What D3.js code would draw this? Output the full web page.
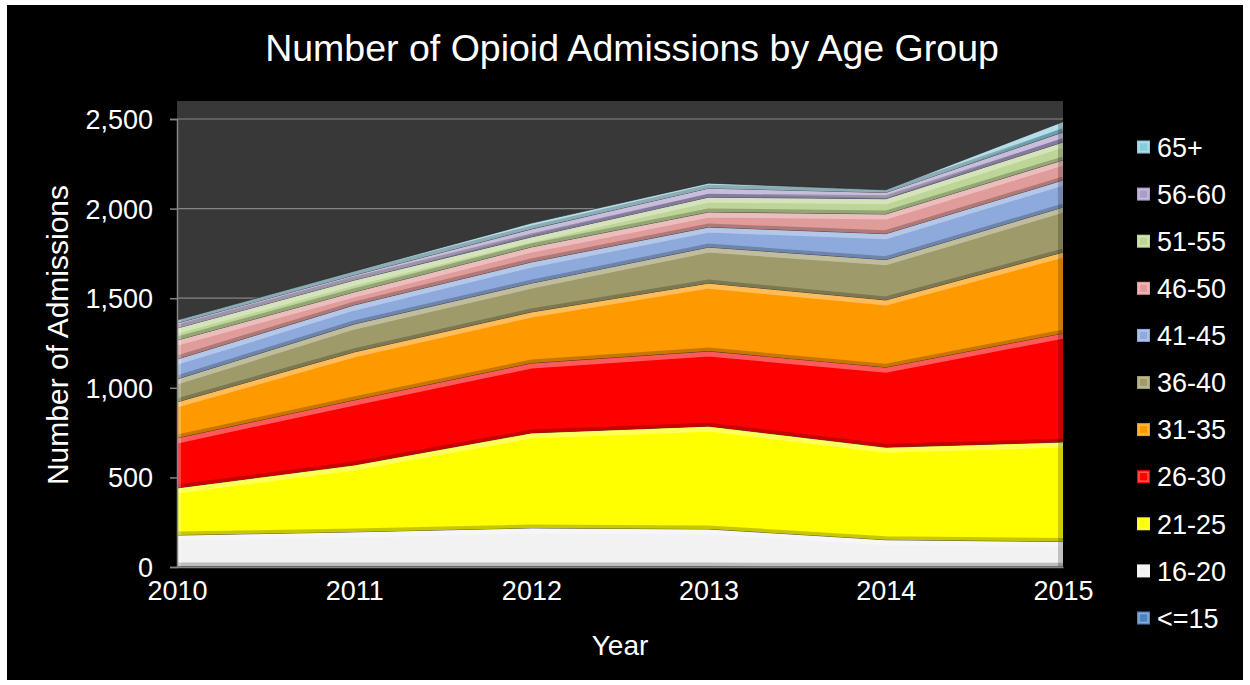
<!DOCTYPE html>
<html><head><meta charset="utf-8">
<script src="https://cdn.jsdelivr.net/npm/d3@7"></script>
<style>html,body{margin:0;padding:0;background:#fff;}svg{display:block;}</style>
</head><body>
<svg id="c" width="1250" height="685"></svg>
<script>
const years = [2010, 2011, 2012, 2013, 2014, 2015];
const seriesNames = ["<=15","16-20","21-25","26-30","31-35","36-40","41-45","46-50","51-55","56-60","65+"];
const le15   = [5, 5, 5, 5, 4, 4];
const a16_20 = [173, 191, 213, 207, 148, 138];
const a21_25 = [263, 373, 530, 574, 516, 555];
const a26_30 = [279, 363, 390, 419, 447, 608];
const a31_35 = [201, 268, 285, 379, 375, 452];
const a36_40 = [128, 156, 161, 201, 225, 251];
const a41_45 = [111, 106, 118, 112, 145, 151];
const a46_50 = [106, 73, 84, 84, 110, 112];
const a51_55 = [67, 66, 56, 83, 85, 100];
const a56_60 = [28, 28, 44, 50, 35, 56];
const a65    = [17, 22, 33, 28, 15, 58];
const yTicks = [0, 500, 1000, 1500, 2000, 2500];
const colors = ["#4f81bd","#f2f2f2","#ffff00","#ff0000","#ff9900","#9e9a6a","#8eaadc","#e09c9a","#bdd597","#ab9cc9","#8ccbdc"];

const valuesBySeries = [le15,a16_20,a21_25,a26_30,a31_35,a36_40,a41_45,a46_50,a51_55,a56_60,a65];
const table = years.map((y,i)=>{ const o={year:y}; seriesNames.forEach((s,k)=>o[s]=valuesBySeries[k][i]); return o; });
const stacked = d3.stack().keys(seriesNames)(table);

const svg = d3.select("#c");
const FONT = "Liberation Sans, Arial, sans-serif";
svg.append("rect").attr("x",7).attr("y",5).attr("width",1236).attr("height",675).attr("fill","#000");

const L=177, R=1063, T=101, B=567;
const x = d3.scaleLinear().domain([2010,2015]).range([L,R]);
const y = d3.scaleLinear().domain([0,2500]).range([B, B-448]);

svg.append("rect").attr("x",L).attr("y",T).attr("width",R-L).attr("height",B-T).attr("fill","#383838");

svg.append("g").selectAll("line").data(yTicks.filter(d=>d>0)).join("line")
  .attr("x1",L).attr("x2",R).attr("y1",d=>y(d)).attr("y2",d=>y(d))
  .attr("stroke","#858585").attr("stroke-width",1.2);

const area = d3.area().x(d=>x(d.data.year)).y0(d=>y(d[0])).y1(d=>y(d[1]));
const topLine = d3.line().x(d=>x(d.data.year)).y(d=>y(d[1]));
const botLine = d3.line().x(d=>x(d.data.year)).y(d=>y(d[0]));

const defs = svg.append("defs");
stacked.forEach((s,i)=>{
  defs.append("clipPath").attr("id","clip"+i).append("path").attr("d",area(s));
});
const gA = svg.append("g");
stacked.forEach((s,i)=>{
  const g = gA.append("g");
  g.append("path").attr("d",area(s)).attr("fill",colors[i]);
  const inner = g.append("g").attr("clip-path","url(#clip"+i+")");
  inner.append("path").attr("d",topLine(s)).attr("fill","none")
    .attr("stroke","#fff").attr("stroke-opacity",0.35).attr("stroke-width",7).attr("transform","translate(0,2)");
  inner.append("path").attr("d",botLine(s)).attr("fill","none")
    .attr("stroke","#000").attr("stroke-opacity",0.22).attr("stroke-width",7);
  inner.append("line").attr("x1",R).attr("x2",R).attr("y1",T).attr("y2",B)
    .attr("stroke","#000").attr("stroke-opacity",0.2).attr("stroke-width",10);
  inner.append("line").attr("x1",L).attr("x2",L).attr("y1",T).attr("y2",B)
    .attr("stroke","#fff").attr("stroke-opacity",0.25).attr("stroke-width",8);
  g.append("path").attr("d",topLine(s)).attr("fill","none")
    .attr("stroke","#222").attr("stroke-opacity",0.7).attr("stroke-width",1);
});

const yAxis = svg.append("g").attr("transform",`translate(${L},0)`)
  .call(d3.axisLeft(y).tickValues(yTicks).tickSize(7).tickPadding(17).tickFormat(d3.format(",")));
yAxis.select(".domain").attr("stroke","#858585").attr("stroke-width",1.5);
yAxis.selectAll(".tick line").attr("stroke","#858585").attr("stroke-width",1.5);
yAxis.selectAll("text").attr("fill","#fff").attr("font-family",FONT).attr("font-size",27).attr("dy","0.35em");

const xAxis = svg.append("g").attr("transform",`translate(0,${B})`)
  .call(d3.axisBottom(x).tickValues(years).tickSize(0).tickPadding(14).tickFormat(d3.format("d")));
xAxis.select(".domain").attr("stroke","#858585").attr("stroke-width",1.5);
xAxis.selectAll("text").attr("fill","#fff").attr("font-family",FONT).attr("font-size",27);

svg.append("text").attr("x",632).attr("y",61).attr("text-anchor","middle")
  .attr("fill","#fff").attr("font-family",FONT).attr("font-size",37.5)
  .text("Number of Opioid Admissions by Age Group");
svg.append("text").attr("x",620).attr("y",655).attr("text-anchor","middle")
  .attr("fill","#fff").attr("font-family",FONT).attr("font-size",28).text("Year");
svg.append("text").attr("transform","translate(68,335) rotate(-90)").attr("text-anchor","middle")
  .attr("fill","#fff").attr("font-family",FONT).attr("font-size",30).text("Number of Admissions");

const legendOrder = seriesNames.map((n,i)=>({n,i})).reverse();
const lg = svg.append("g");
legendOrder.forEach((d,k)=>{
  const cy = 147 + k*47.1;
  lg.append("rect").attr("x",1137).attr("y",cy-6.5).attr("width",13).attr("height",13).attr("fill",colors[d.i]);
  lg.append("rect").attr("x",1139).attr("y",cy-4.5).attr("width",9).attr("height",9).attr("fill","none")
    .attr("stroke","#fff").attr("stroke-opacity",0.35).attr("stroke-width",1.5);
  lg.append("text").attr("x",1157).attr("y",cy).attr("dy","0.36em")
    .attr("fill","#fff").attr("font-family",FONT).attr("font-size",27).text(d.n);
});
</script>
</body></html>
